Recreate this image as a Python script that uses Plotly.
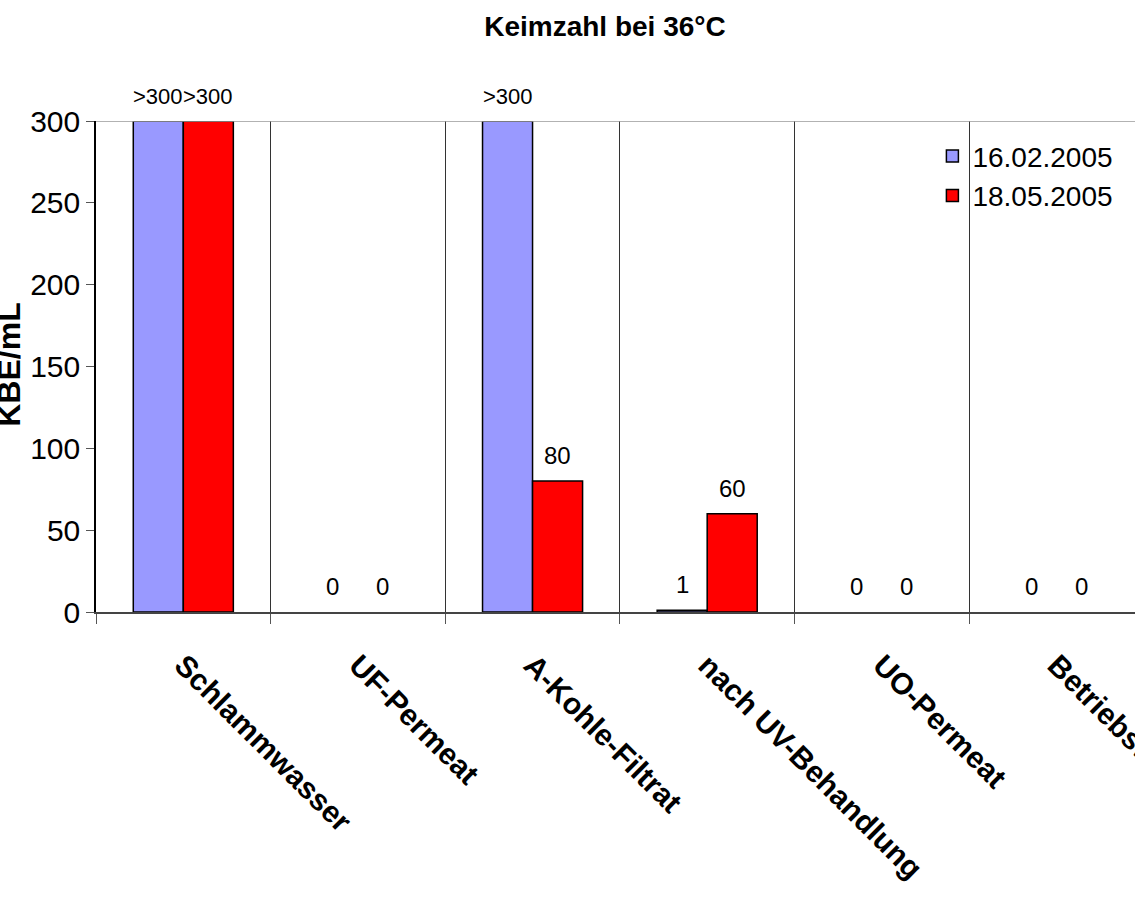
import plotly.graph_objects as go

# Keimzahl (KBE/mL) at 36 °C for each treatment stage, two sampling dates
categories = ["Schlammwasser", "UF-Permeat", "A-Kohle-Filtrat",
              "nach UV-Behandlung", "UO-Permeat", "Betriebswasser"]
series_names = ["16.02.2005", "18.05.2005"]
values_feb = [300, 0, 300, 1, 0, 0]
values_may = [300, 0, 80, 60, 0, 0]
y_ticks = [0, 50, 100, 150, 200, 250, 300]

# counts at the upper plate-count limit are reported as ">300"
LIMIT = 300
FONT = "Liberation Sans, Arial, sans-serif"
BARGAP = 0.427
colors = ["#9999FF", "#FF0000"]


def label(v):
    return ">300" if v >= LIMIT else str(v)


fig = go.Figure()
for name, vals, col in zip(series_names, [values_feb, values_may], colors):
    fig.add_trace(go.Bar(
        name=name, x=categories, y=vals,
        marker=dict(
            color=col,
            # empty samples get no outline so nothing is drawn on the baseline
            line=dict(color="#000000", width=[1.5 if v > 0 else 0 for v in vals]),
        ),
        hoverinfo="x+y",
    ))

# value labels above each bar (offset by half a bar width within the group)
half = (1 - BARGAP) / 4
for k, vals in enumerate([values_feb, values_may]):
    shift = -half if k == 0 else half
    for i, v in enumerate(vals):
        fig.add_annotation(
            x=i + shift, y=v, xref="x", yref="y",
            text=label(v), showarrow=False,
            xanchor="center", yanchor="bottom", yshift=10,
            font=dict(family=FONT, size=22 if v >= LIMIT else 24, color="#000000"),
        )

# y-axis title, partly running off the left edge
fig.add_annotation(
    x=-0.084, y=0.503, xref="paper", yref="paper",
    text="<b>KBE/mL</b>", textangle=-90, showarrow=False,
    xanchor="center", yanchor="middle",
    font=dict(family=FONT, size=32, color="#000000"),
)

# frame line along the top of the value range
fig.add_shape(type="line", xref="paper", yref="y", x0=0, x1=1,
              y0=LIMIT, y1=LIMIT, line=dict(color="#999999", width=1.5))

fig.update_layout(
    width=1135, height=900,
    margin=dict(l=96, r=0, t=121, b=288, autoexpand=False),
    paper_bgcolor="#FFFFFF", plot_bgcolor="#FFFFFF",
    barmode="group", bargap=BARGAP, bargroupgap=0,
    font=dict(family=FONT, color="#000000"),
    title=dict(
        text="<b>Keimzahl bei 36°C</b>",
        x=0.533, xref="container", xanchor="center",
        y=0.971, yref="container", yanchor="middle",
        font=dict(family=FONT, size=28, color="#000000"),
    ),
    legend=dict(
        x=0.805, y=0.979, xanchor="left", yanchor="top",
        font=dict(family=FONT, size=28, color="#000000"),
        bgcolor="rgba(0,0,0,0)", tracegroupgap=0,
    ),
    showlegend=True,
)

fig.update_xaxes(
    type="category", range=[-0.5, 5.45], automargin=False,
    tickson="boundaries", ticks="outside", ticklen=10,
    tickcolor="#555555", tickwidth=1,
    showgrid=True, gridcolor="#333333", gridwidth=1,
    showline=True, linecolor="#444444", linewidth=1.5,
    tickangle=45, ticklabelstandoff=22,
    tickfont=dict(family=FONT, size=30, color="#000000", weight="bold"),
    zeroline=False, fixedrange=True,
)
fig.update_yaxes(
    range=[0, LIMIT], tickvals=y_ticks, automargin=False,
    ticks="outside", ticklen=8, tickcolor="#555555", tickwidth=1,
    showgrid=False, zeroline=False,
    showline=True, linecolor="#000000", linewidth=1.5,
    tickfont=dict(family=FONT, size=30, color="#000000"),
    fixedrange=True,
)

fig.write_html("out.html")
